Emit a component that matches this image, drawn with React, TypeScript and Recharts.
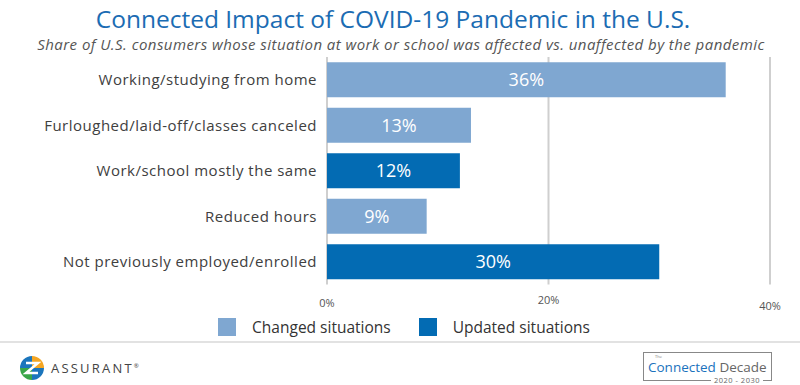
import { BarChart, Bar, XAxis, YAxis, CartesianGrid, Legend, LabelList } from "recharts";

const categories = [
  "Working/studying from home",
  "Furloughed/laid-off/classes canceled",
  "Work/school mostly the same",
  "Reduced hours",
  "Not previously employed/enrolled",
];
const changedValues = [36, 13, null, 9, null];
const updatedValues = [null, null, 12, null, 30];
const xTicks = [0, 20, 40];

const data = categories.map((name, i) => ({
  name,
  changed: changedValues[i],
  updated: updatedValues[i],
}));

const FONT = "'Open Sans', 'Noto Sans', sans-serif";
const LIGHT = "#7fa7d1";
const DARK = "#036bb3";

// the source has its tick labels slightly staggered
const tickShift: Record<number, number> = { 0: 3, 20: 0, 40: 6 };

function XTick(props: any) {
  const { x, y, payload } = props;
  return (
    <text x={x} y={y + (tickShift[payload.value] ?? 0)} dy="0.71em" textAnchor="middle" fill="#555" fontSize={11} fontFamily={FONT}>
      {payload.value}%
    </text>
  );
}

function LegendContent(props: any) {
  const items = props.payload || [];
  return (
    <div style={{ display: "flex", justifyContent: "center", alignItems: "center", height: 24, paddingLeft: 8, fontFamily: FONT, fontSize: 15.5, color: "#333" }}>
      {items.map((it: any, i: number) => (
        <div key={i} style={{ display: "flex", alignItems: "center", marginLeft: i ? 28 : 0 }}>
          <span style={{ width: 18, height: 18, background: it.color, display: "inline-block", marginRight: 16 }} />
          <span>{it.value}</span>
        </div>
      ))}
    </div>
  );
}

function AssurantLogo() {
  return (
    <div style={{ position: "absolute", left: 20, top: 356, display: "flex", alignItems: "center" }}>
      <svg width={24} height={24} viewBox="-12 -12 24 24">
        <path d="M0 0 L0 -12 A12 12 0 0 1 12 0 Z" fill="#f5a623" />
        <path d="M0 0 L12 0 A12 12 0 0 1 0 12 Z" fill="#1b75bc" />
        <path d="M0 0 L0 12 A12 12 0 0 1 -12 0 Z" fill="#3aa648" />
        <path d="M0 0 L-12 0 A12 12 0 0 1 0 -12 Z" fill="#1b75bc" />
        <path d="M-6 -5 L6 -5 L-6 5 L6 5" stroke="#fff" strokeWidth={2.5} fill="none" />
      </svg>
      <span style={{ marginLeft: 7, fontFamily: FONT, fontSize: 13, letterSpacing: 2.2, color: "#444" }}>
        ASSURANT<sup style={{ fontSize: 6, letterSpacing: 0 }}>®</sup>
      </span>
    </div>
  );
}

function DecadeBadge() {
  return (
    <div style={{ position: "absolute", left: 643, top: 352, width: 127, height: 27, border: "1px solid #888", fontFamily: FONT }}>
      <span style={{ position: "absolute", left: 11, top: 1, fontSize: 4, lineHeight: "5px", color: "#777" }}>The</span>
      <div style={{ position: "absolute", left: 4, top: 7, fontSize: 13.5, lineHeight: "14px", whiteSpace: "nowrap" }}>
        <span style={{ color: "#1a72bd" }}>Connected</span> <span style={{ color: "#666" }}>Decade</span>
      </div>
      <span style={{ position: "absolute", right: 8, top: 23, fontSize: 7.5, lineHeight: "9px", background: "#fff", padding: "0 3px", color: "#666", letterSpacing: 0.5 }}>
        2020 - 2030
      </span>
    </div>
  );
}

export default function App() {
  return (
    <div style={{ position: "absolute", left: 0, top: 0, width: 800, height: 385, background: "#fff", overflow: "hidden" }}>
      <div style={{ position: "absolute", top: 3, left: -7, width: 800, textAlign: "center", fontFamily: FONT, fontSize: 24.5, lineHeight: "32px", color: "#1b6cb3" }}>
        Connected Impact of COVID-19 Pandemic in the U.S.
      </div>
      <div style={{ position: "absolute", top: 34, left: 1, width: 800, textAlign: "center", fontFamily: FONT, fontStyle: "italic", fontSize: 15, letterSpacing: 0.45, lineHeight: "20px", color: "#555" }}>
        Share of U.S. consumers whose situation at work or school was affected vs. unaffected by the pandemic
      </div>
      <div style={{ position: "absolute", left: 0, top: 0 }}>
        <BarChart
          width={800}
          height={342}
          data={data}
          layout="vertical"
          margin={{ top: 57, right: 30, bottom: 3.5, left: 0 }}
          barCategoryGap="11.5%"
        >
          <CartesianGrid horizontal={false} stroke="#cfcfcf" strokeWidth={2} />
          <XAxis
            type="number"
            domain={[0, 40]}
            ticks={xTicks}
            height={30}
            axisLine={false}
            tickLine={false}
            tickSize={6}
            tickMargin={6}
            tick={<XTick />}
          />
          <YAxis
            type="category"
            dataKey="name"
            width={327}
            axisLine={false}
            tickLine={false}
            tickSize={8}
            tickMargin={2}
            tick={{ fill: "#404040", fontSize: 15, fontFamily: FONT, letterSpacing: 0.5 }}
          />
          <Legend verticalAlign="bottom" content={<LegendContent />} wrapperStyle={{ left: 0, width: 800 }} />
          <Bar dataKey="changed" name="Changed situations" stackId="a" fill={LIGHT} isAnimationActive={false}>
            <LabelList
              dataKey="changed"
              position="center"
              formatter={(v: any) => (v == null ? "" : `${v}%`)}
              fill="#fff"
              fontSize={18}
              fontFamily={FONT}
            />
          </Bar>
          <Bar dataKey="updated" name="Updated situations" stackId="a" fill={DARK} isAnimationActive={false}>
            <LabelList
              dataKey="updated"
              position="center"
              formatter={(v: any) => (v == null ? "" : `${v}%`)}
              fill="#fff"
              fontSize={18}
              fontFamily={FONT}
            />
          </Bar>
        </BarChart>
      </div>
      <div style={{ position: "absolute", left: 0, top: 341, width: 800, height: 2, background: "#e2e2e2" }} />
      <AssurantLogo />
      <DecadeBadge />
    </div>
  );
}
